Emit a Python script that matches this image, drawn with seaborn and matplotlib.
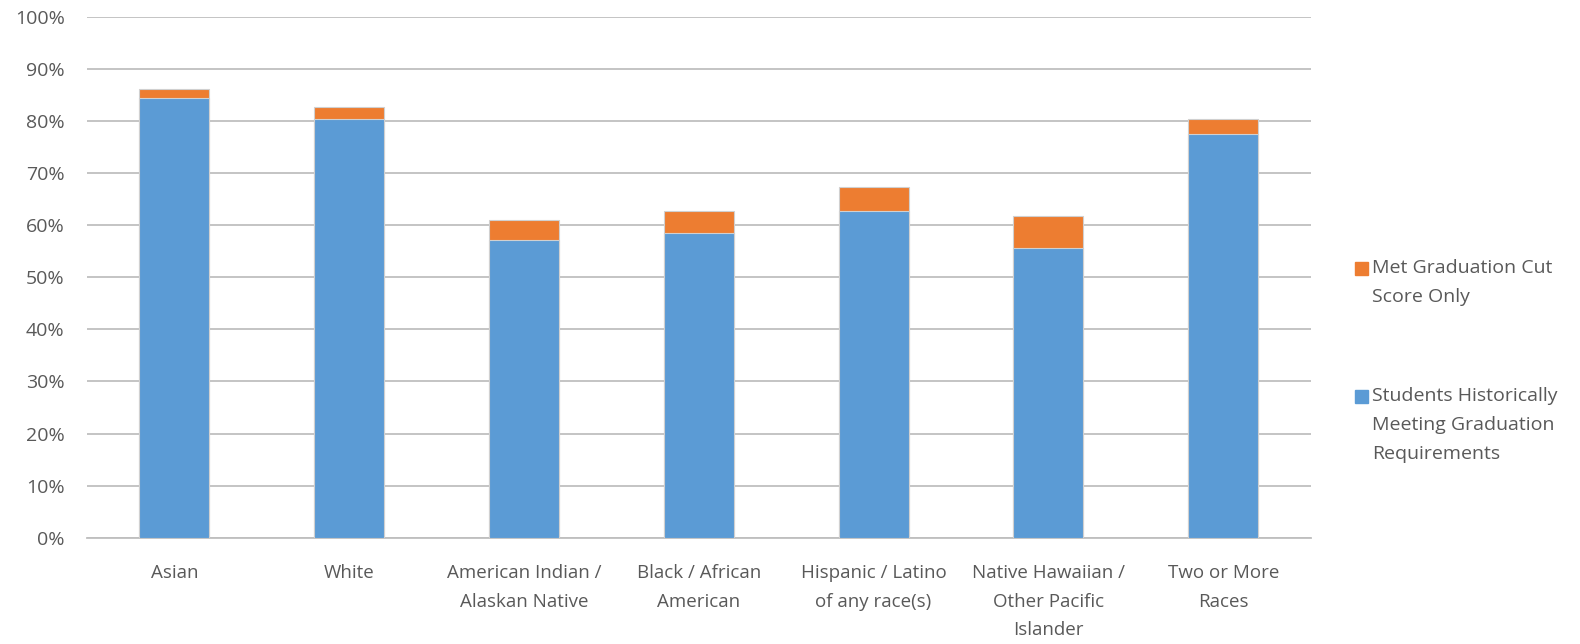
import numpy as np
import pandas as pd
import matplotlib
matplotlib.use("Agg")
import matplotlib.pyplot as plt
import seaborn as sns
from matplotlib.patches import Rectangle
from matplotlib.ticker import PercentFormatter

# data (percent)
groups = ["Asian", "White", "American Indian /\nAlaskan Native", "Black / African\nAmerican",
          "Hispanic / Latino\nof any race(s)", "Native Hawaiian /\nOther Pacific\nIslander",
          "Two or More\nRaces"]
historic = [84.4, 80.3, 57.1, 58.4, 62.8, 55.6, 77.5]
cut_only = [1.8, 2.3, 3.9, 4.3, 4.6, 6.2, 2.9]

blue = "#5B9BD5"
orange = "#ED7D31"
text_col = "#595959"

df = pd.DataFrame({"group": groups, "historic": historic, "cut_only": cut_only})
df["total"] = df["historic"] + df["cut_only"]

sns.set_style("white")
plt.rcParams["font.family"] = ["Open Sans", "DejaVu Sans"]

fig = plt.figure(figsize=(15.8, 6.44), dpi=100)
ax = fig.add_axes([0.055, 0.165, 0.7745, 0.809])

# stacked: total in orange, historic drawn over it in blue
sns.barplot(data=df, x="group", y="total", color=orange, width=0.4, saturation=1,
            edgecolor="#D0D0D0", linewidth=0.8, ax=ax, zorder=2)
sns.barplot(data=df, x="group", y="historic", color=blue, width=0.4, saturation=1,
            edgecolor="#D0D0D0", linewidth=0.8, ax=ax, zorder=3)

ax.set_ylim(0, 100)
ax.set_yticks(np.arange(0, 101, 10))
ax.yaxis.set_major_formatter(PercentFormatter(decimals=0))
ax.set_xlim(-0.5, len(groups) - 0.5)
ax.grid(axis="y", color="#BFBFBF", linewidth=1.3, zorder=0)
ax.set_axisbelow(True)
for s in ["top", "right", "left"]:
    ax.spines[s].set_visible(False)
ax.spines["bottom"].set_color("#BFBFBF")
ax.spines["bottom"].set_linewidth(1.3)
ax.set_xlabel("")
ax.set_ylabel("")
ax.tick_params(axis="both", length=0, labelsize=13.5, labelcolor=text_col)
ax.tick_params(axis="y", pad=16, labelsize=14)
ax.tick_params(axis="x", pad=19)
for lab in ax.get_xticklabels():
    lab.set_linespacing(1.75)

# legend drawn by hand so the square sits on the first line of each label (Excel style)
leg_labels = ["Met Graduation Cut\nScore Only", "Students Historically\nMeeting Graduation\nRequirements"]
leg_colors = [orange, blue]
leg_rows = [268, 396]  # pixel rows of the first text line
for lab, col, row in zip(leg_labels, leg_colors, leg_rows):
    y = 1 - row / 644
    fig.patches.append(Rectangle((1355 / 1580, y - 6.5 / 644), 13 / 1580, 13 / 644,
                                 transform=fig.transFigure, color=col, figure=fig))
    fig.text(1372 / 1580, y + 9 / 644, lab, ha="left", va="top", fontsize=14,
             color=text_col, linespacing=1.8)

fig.savefig("out.png", dpi=100)
